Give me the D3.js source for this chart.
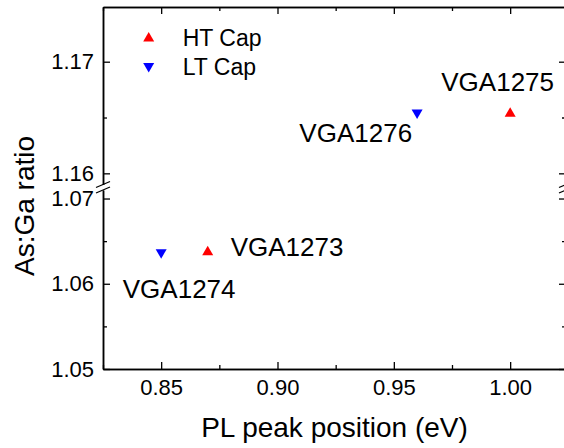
<!DOCTYPE html>
<html>
<head>
<meta charset="utf-8">
<script src="https://cdn.jsdelivr.net/npm/d3@7"></script>
<style>
  html, body { margin: 0; padding: 0; background: #fff; }
  svg { display: block; font-family: Arial, "Liberation Sans", sans-serif; }
</style>
</head>
<body>
<svg id="chart" width="564" height="448"></svg>
<script>
// ---- data ----
const seriesNames = ["HT Cap", "LT Cap"];
const htX = [0.87, 1.00];
const htY = [1.0639, 1.1655];
const htLabels = ["VGA1273", "VGA1275"];
const ltX = [0.85, 0.96];
const ltY = [1.0635, 1.1653];
const ltLabels = ["VGA1274", "VGA1276"];
const xTicks = [0.85, 0.90, 0.95, 1.00];
const xMinorTicks = [0.825, 0.875, 0.925, 0.975];
const yLowerTicks = [1.05, 1.06, 1.07];
const yLowerMinor = [1.055, 1.065];
const yUpperTicks = [1.16, 1.17];
const yUpperMinor = [1.165];
const xTitle = "PL peak position (eV)";
const yTitle = "As:Ga ratio";

// ---- layout ----
const L = 103, R = 566, T = 7, B = 369;
const upperBottom = 184.5, lowerTop = 190;
const svg = d3.select("#chart");

const x = d3.scaleLinear().domain([0.825, 1.024]).range([L, R]);
const yUp = d3.scaleLinear().domain([1.159, 1.1749]).range([upperBottom, T]);
const yLo = d3.scaleLinear().domain([1.05, 1.071]).range([B, lowerTop]);
const yPos = v => v > 1.1 ? yUp(v) : yLo(v);

const fmt = d3.format(".2f");
const tickFont = "22px";

function styleAxis(g) {
  g.selectAll("path.domain").attr("stroke", "#000").attr("stroke-width", 1.5);
  g.selectAll(".tick line").attr("stroke", "#000").attr("stroke-width", 1.3);
  g.selectAll("text").attr("fill", "#000").style("font-size", tickFont)
    .style("font-family", "Arial, 'Liberation Sans', sans-serif");
}

// bottom axis
const gx = svg.append("g").attr("transform", `translate(0,${B})`)
  .call(d3.axisBottom(x).tickValues(xTicks).tickFormat(fmt).tickSize(-7).tickSizeOuter(0).tickPadding(10));
styleAxis(gx);
const gxm = svg.append("g").attr("transform", `translate(0,${B})`)
  .call(d3.axisBottom(x).tickValues(xMinorTicks).tickFormat("").tickSize(-4).tickSizeOuter(0));
styleAxis(gxm);
// top axis
const gt = svg.append("g").attr("transform", `translate(0,${T})`)
  .call(d3.axisTop(x).tickValues(xTicks).tickFormat("").tickSize(-7).tickSizeOuter(0));
styleAxis(gt);
const gtm = svg.append("g").attr("transform", `translate(0,${T})`)
  .call(d3.axisTop(x).tickValues(xMinorTicks).tickFormat("").tickSize(-4).tickSizeOuter(0));
styleAxis(gtm);

// left axes (two segments)
[[yLo, yLowerTicks, yLowerMinor], [yUp, yUpperTicks, yUpperMinor]].forEach(([sc, maj, min]) => {
  const a = svg.append("g").attr("transform", `translate(${L},0)`)
    .call(d3.axisLeft(sc).tickValues(maj).tickFormat(fmt).tickSize(-7).tickSizeOuter(0).tickPadding(9));
  styleAxis(a);
  const am = svg.append("g").attr("transform", `translate(${L},0)`)
    .call(d3.axisLeft(sc).tickValues(min).tickFormat("").tickSize(-4).tickSizeOuter(0));
  styleAxis(am);
  const r = svg.append("g").attr("transform", `translate(${R},0)`)
    .call(d3.axisRight(sc).tickValues(maj).tickFormat("").tickSize(-7).tickSizeOuter(0));
  styleAxis(r);
  const rm = svg.append("g").attr("transform", `translate(${R},0)`)
    .call(d3.axisRight(sc).tickValues(min).tickFormat("").tickSize(-4).tickSizeOuter(0));
  styleAxis(rm);
});

// break marks
[L, R].forEach(ax => {
  [upperBottom, lowerTop].forEach(yy => {
    svg.append("line")
      .attr("x1", ax - 7).attr("y1", yy + 3)
      .attr("x2", ax + 7).attr("y2", yy - 3)
      .attr("stroke", "#000").attr("stroke-width", 1.3);
  });
});

// triangle marker paths (bbox-centred)
const tw = 11, th = 9.5;
const triUp = `M0,${-th/2}L${tw/2},${th/2}L${-tw/2},${th/2}Z`;
const triDown = `M0,${th/2}L${tw/2},${-th/2}L${-tw/2},${-th/2}Z`;

const series = [
  { name: seriesNames[0], xs: htX, ys: htY, labels: htLabels, color: "#ff0000", path: triUp },
  { name: seriesNames[1], xs: ltX, ys: ltY, labels: ltLabels, color: "#0000ff", path: triDown }
];

// label placement (style only)
const labelStyle = {
  "VGA1273": { anchor: "start", dx: 23, dy: 5 },
  "VGA1275": { anchor: "middle", dx: -12.5, dy: -21 },
  "VGA1274": { anchor: "middle", dx: 18, dy: 43.6 },
  "VGA1276": { anchor: "end", dx: -5, dy: 28 }
};

series.forEach(s => {
  const pts = s.xs.map((v, i) => ({ x: v, y: s.ys[i], label: s.labels[i] }));
  svg.append("g").selectAll("path").data(pts).join("path")
    .attr("d", s.path)
    .attr("transform", d => `translate(${x(d.x)},${yPos(d.y)})`)
    .attr("fill", s.color);
  svg.append("g").selectAll("text").data(pts).join("text")
    .attr("x", d => x(d.x) + labelStyle[d.label].dx)
    .attr("y", d => yPos(d.y) + labelStyle[d.label].dy)
    .attr("text-anchor", d => labelStyle[d.label].anchor)
    .style("font-size", "26px")
    .attr("fill", "#000")
    .text(d => d.label);
});

// legend
const leg = svg.append("g");
series.forEach((s, i) => {
  const cy = 36.7 + i * 31;
  leg.append("path").attr("d", s.path).attr("transform", `translate(148.7,${cy})`).attr("fill", s.color);
  leg.append("text").attr("x", 182.7).attr("y", cy + 9 - i * 1.5)
    .style("font-size", "23px").attr("fill", "#000").text(s.name);
});

// axis titles
svg.append("text").attr("x", (L + R) / 2).attr("y", 437)
  .attr("text-anchor", "middle").style("font-size", "28px").attr("fill", "#000").text(xTitle);
svg.append("text").attr("transform", "translate(33.5,206) rotate(-90)")
  .attr("text-anchor", "middle").style("font-size", "28px").attr("fill", "#000").text(yTitle);
</script>
</body>
</html>
